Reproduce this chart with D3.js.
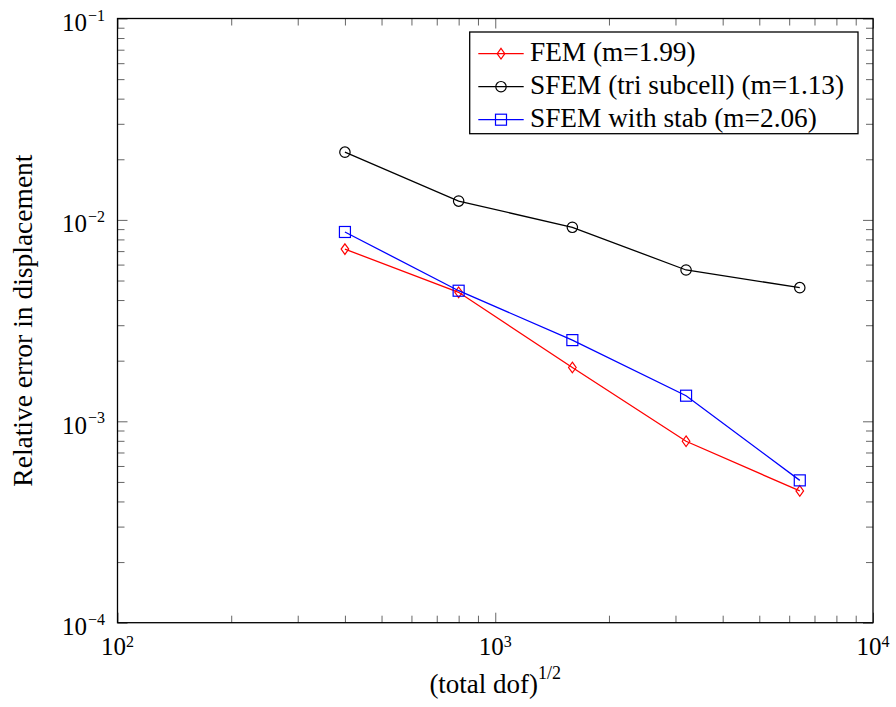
<!DOCTYPE html>
<html>
<head>
<meta charset="utf-8">
<script src="https://cdn.jsdelivr.net/npm/d3@7"></script>
<style>
  body { margin: 0; background: #fff; }
  svg { display: block; }
  svg text { font-family: "Liberation Serif", "DejaVu Serif", serif; }
</style>
</head>
<body>
<div id="chart"></div>
<script>
// convergence data: (total dof)^1/2 vs relative displacement error
const dofs = [400, 800, 1600, 3200, 6400];
const femErr = [0.00716, 0.00437, 0.00185, 0.000796, 0.000451];
const sfemTriErr = [0.0217, 0.0124, 0.00919, 0.00564, 0.00461];
const sfemStabErr = [0.00871, 0.00445, 0.00253, 0.00134, 0.000509];

const seriesNames = ["FEM (m=1.99)", "SFEM (tri subcell) (m=1.13)", "SFEM with stab (m=2.06)"];
const xMajor = [2, 3, 4];      // exponents of 10
const yMajor = [-4, -3, -2, -1];

(function () {
  const W = 896, H = 707;
  const margin = { top: 18.5, right: 23, bottom: 84.3, left: 117.5 };
  const width = W - margin.left - margin.right;
  const height = H - margin.top - margin.bottom;

  const svgRoot = d3.select("#chart").append("svg")
    .attr("width", W).attr("height", H);
  const svg = svgRoot.append("g")
    .attr("transform", `translate(${margin.left},${margin.top})`);

  const x = d3.scaleLog().domain([1e2, 1e4]).range([0, width]);
  const y = d3.scaleLog().domain([1e-4, 1e-1]).range([height, 0]);

  // minor ticks 2..9 per decade
  const minorX = [], minorY = [];
  for (let e = 2; e < 4; e++) for (let k = 2; k <= 9; k++) minorX.push(k * Math.pow(10, e));
  for (let e = -4; e < -1; e++) for (let k = 2; k <= 9; k++) minorY.push(k * Math.pow(10, e));
  const majX = xMajor.map(e => Math.pow(10, e));
  const majY = yMajor.map(e => Math.pow(10, e));

  function tickAxis(axisFn, scale, vals, size, tr) {
    const g = svg.append("g")
      .attr("transform", tr)
      .call(axisFn(scale).tickValues(vals).tickSize(size).tickFormat(""));
    g.select(".domain").remove();
    g.selectAll("line").attr("stroke", "#555").attr("stroke-width", 0.9);
    return g;
  }

  // inward ticks, mirrored on all four sides
  tickAxis(d3.axisBottom, x, minorX, -7, `translate(0,${height})`);
  tickAxis(d3.axisBottom, x, majX, -10, `translate(0,${height})`);
  tickAxis(d3.axisTop, x, minorX, -7, "translate(0,0)");
  tickAxis(d3.axisTop, x, majX, -10, "translate(0,0)");
  tickAxis(d3.axisLeft, y, minorY, -7, "translate(0,0)");
  tickAxis(d3.axisLeft, y, majY, -10, "translate(0,0)");
  tickAxis(d3.axisRight, y, minorY, -7, `translate(${width},0)`);
  tickAxis(d3.axisRight, y, majY, -10, `translate(${width},0)`);

  svg.append("rect")
    .attr("width", width).attr("height", height)
    .attr("fill", "none").attr("stroke", "#000").attr("stroke-width", 1.3);

  // tick labels 10^n
  xMajor.forEach(e => {
    const t = svg.append("text")
      .attr("x", x(Math.pow(10, e)))
      .attr("y", height + 32.3)
      .attr("text-anchor", "middle")
      .style("font-size", "25px");
    t.append("tspan").text("10");
    t.append("tspan").attr("dy", -8.5).style("font-size", "16px").text(e);
  });
  yMajor.forEach(e => {
    const t = svg.append("text")
      .attr("x", -12.5)
      .attr("y", y(Math.pow(10, e)) + 12.5)
      .attr("text-anchor", "end")
      .style("font-size", "25px");
    t.append("tspan").text("10");
    t.append("tspan").attr("dy", -10.5).attr("dx", 1).style("font-size", "16px").text("\u2212" + (-e));
  });

  // axis labels
  const xl = svg.append("text")
    .attr("x", width / 2)
    .attr("y", height + 70.6)
    .attr("text-anchor", "middle")
    .style("font-size", "27px");
  xl.append("tspan").text("(total dof)");
  xl.append("tspan").attr("dy", -14).style("font-size", "18px").text("1/2");

  svg.append("text")
    .attr("transform", "rotate(-90)")
    .attr("x", -height / 2)
    .attr("y", -86)
    .attr("text-anchor", "middle")
    .style("font-size", "27.5px")
    .text("Relative error in displacement");

  // series
  const series = [
    { name: seriesNames[0], vals: femErr, color: "#ff0000", mark: "diamond" },
    { name: seriesNames[1], vals: sfemTriErr, color: "#000000", mark: "circle" },
    { name: seriesNames[2], vals: sfemStabErr, color: "#0000ff", mark: "square" }
  ];

  const line = d3.line()
    .x(d => x(d[0]))
    .y(d => y(d[1]));

  function marker(g, kind, color) {
    if (kind === "circle") {
      g.append("circle").attr("r", 5.2)
        .attr("fill", "none").attr("stroke", color).attr("stroke-width", 1.2);
    } else if (kind === "square") {
      g.append("rect").attr("x", -5.5).attr("y", -5.5).attr("width", 11).attr("height", 11)
        .attr("fill", "none").attr("stroke", color).attr("stroke-width", 1.2);
    } else {
      g.append("path").attr("d", "M0,-5.3L3.8,0L0,5.3L-3.8,0Z")
        .attr("fill", "none").attr("stroke", color).attr("stroke-width", 1.2);
    }
  }

  series.forEach(s => {
    const pts = dofs.map((d, i) => [d, s.vals[i]]);
    svg.append("path")
      .datum(pts)
      .attr("fill", "none")
      .attr("stroke", s.color)
      .attr("stroke-width", 1.3)
      .attr("d", line);
    pts.forEach(p => {
      const g = svg.append("g").attr("transform", `translate(${x(p[0])},${y(p[1])})`);
      marker(g, s.mark, s.color);
    });
  });

  // legend (top right)
  const lx = 469.7 - margin.left, ly = 32 - margin.top;
  const legend = svg.append("g").attr("transform", `translate(${lx},${ly})`);
  legend.append("rect")
    .attr("width", 388.3).attr("height", 101.7)
    .attr("fill", "#fff").attr("stroke", "#000").attr("stroke-width", 1.3);
  series.forEach((s, i) => {
    const cy = 21.7 + i * 33;
    legend.append("line")
      .attr("x1", 8.6).attr("x2", 54).attr("y1", cy).attr("y2", cy)
      .attr("stroke", s.color).attr("stroke-width", 1.3);
    const g = legend.append("g").attr("transform", `translate(31.3,${cy})`);
    marker(g, s.mark, s.color);
    legend.append("text")
      .attr("x", 60.3).attr("y", cy + 7.5)
      .style("font-size", "27.3px")
      .text(s.name);
  });
})();
</script>
</body>
</html>
